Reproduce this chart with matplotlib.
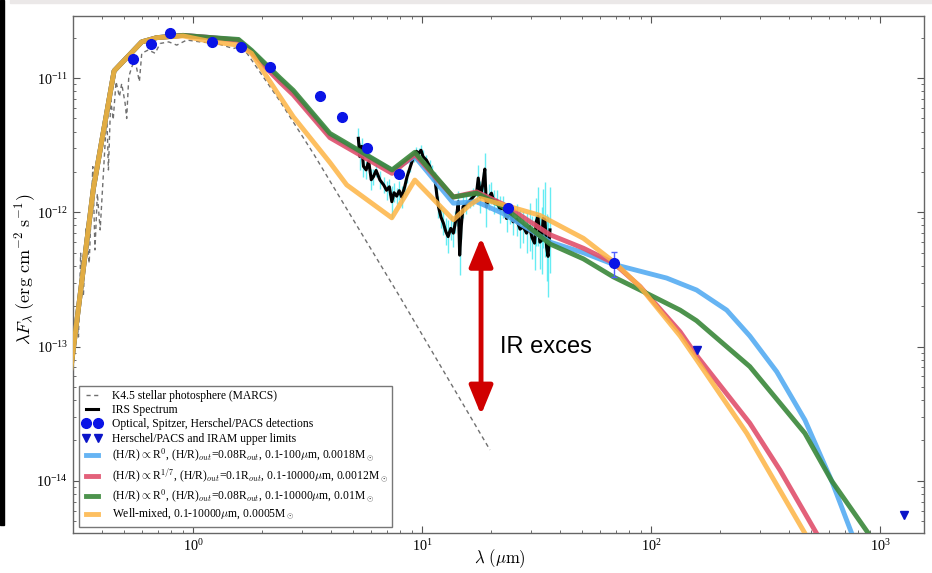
import numpy as np
import matplotlib
matplotlib.use('Agg')
import matplotlib.pyplot as plt
from matplotlib.patches import Rectangle
from matplotlib.ticker import NullFormatter

plt.rcParams['font.family'] = 'serif'
plt.rcParams['font.serif'] = ['Liberation Serif', 'DejaVu Serif']
plt.rcParams['mathtext.fontset'] = 'cm'

# stellar photosphere (MARCS)
wl_phot = [0.285, 0.300, 0.311, 0.316, 0.323, 0.332, 0.341, 0.352, 0.365, 0.373,
           0.382, 0.393, 0.406, 0.420, 0.427, 0.437, 0.448, 0.461, 0.477, 0.488,
           0.505, 0.513, 0.524, 0.540, 0.558, 0.583, 0.597, 0.638, 0.683, 0.718,
           0.783, 0.849, 0.939, 1.073, 1.27, 1.50, 1.60, 1.72, 1.93, 2.4,
           3.35, 5.01, 8.0, 19.8]
flux_phot = [5e-14, 9.4e-14, 1.58e-13, 1.18e-13, 4.96e-13, 2.36e-13, 7.8e-13, 4.17e-13, 2.19e-12, 5.25e-13,
             1.38e-12, 7.4e-13, 1.95e-12, 5.46e-12, 2.07e-12, 6.86e-12, 4.9e-12, 9.4e-12, 7.26e-12, 9.1e-12,
             6.5e-12, 5.0e-12, 1.02e-11, 1.21e-11, 1.36e-11, 9.4e-12, 1.53e-11, 1.62e-11, 1.53e-11, 1.81e-11,
             1.86e-11, 1.76e-11, 1.92e-11, 1.86e-11, 1.81e-11, 1.66e-11, 1.71e-11, 1.53e-11, 1.15e-11, 6.7e-12,
             2.75e-12, 8.8e-13, 2.35e-13, 1.7e-14]

# IRS spectrum + error (dex)
wl_irs = [5.27, 5.35, 5.45, 5.55, 5.7, 5.85, 6.0, 6.13, 6.3, 6.55,
          6.8, 7.0, 7.2, 7.38, 7.55, 7.75, 7.95, 8.15, 8.4, 8.6,
          8.9, 9.2, 9.45, 9.66, 9.9, 10.1, 10.45, 10.8, 11.1, 11.4,
          11.6, 11.8, 12.1, 12.4, 12.7, 13.0, 13.35, 13.7, 14.0, 14.2,
          14.4, 14.6, 14.85, 15.1, 15.6, 16.2, 16.7, 17.3, 17.6, 18.0,
          18.4, 18.8, 19.1, 19.6, 20.1, 20.6, 21.2, 21.9, 22.6, 23.4,
          24.2, 25.0, 25.9, 26.8, 27.7, 28.6, 29.5, 30.2, 31.0, 31.5,
          32.1, 32.7, 33.3, 33.8, 34.4, 35.0, 35.5, 36.2]
flux_irs = [3.56e-12, 2.6e-12, 3.1e-12, 2.2e-12, 2.07e-12, 2.4e-12, 1.75e-12, 1.84e-12, 2.05e-12, 1.74e-12,
            1.6e-12, 1.46e-12, 1.55e-12, 1.2e-12, 1.4e-12, 1.32e-12, 1.45e-12, 1.3e-12, 1.55e-12, 1.84e-12,
            2.2e-12, 2.6e-12, 2.85e-12, 2.75e-12, 2.9e-12, 2.6e-12, 2.45e-12, 2.2e-12, 1.95e-12, 1.74e-12,
            1.35e-12, 1.1e-12, 9.2e-13, 8.3e-13, 7.2e-13, 6.6e-13, 7.6e-13, 7.0e-13, 8.5e-13, 9.8e-13,
            1.2e-12, 4.8e-13, 8.0e-13, 1.1e-12, 1.15e-12, 1.23e-12, 1.3e-12, 1.39e-12, 1.8e-12, 1.3e-12,
            1.6e-12, 2.1e-12, 1.1e-12, 1.3e-12, 1.39e-12, 1.2e-12, 1.23e-12, 1.05e-12, 1.1e-12, 9.0e-13,
            9.8e-13, 8.5e-13, 8.8e-13, 7.5e-13, 7.8e-13, 7.0e-13, 7.8e-13, 6.5e-13, 5.9e-13, 8.5e-13,
            9.3e-13, 6.0e-13, 6.2e-13, 9.0e-13, 8.8e-13, 5.5e-13, 4.7e-13, 7.4e-13]
err_irs = [0.08, 0.10, 0.06, 0.08, 0.07, 0.06, 0.08, 0.06, 0.05, 0.07,
           0.06, 0.07, 0.06, 0.12, 0.07, 0.06, 0.07, 0.08, 0.06, 0.05,
           0.04, 0.04, 0.03, 0.04, 0.04, 0.05, 0.04, 0.05, 0.06, 0.06,
           0.07, 0.08, 0.08, 0.09, 0.10, 0.12, 0.09, 0.10, 0.08, 0.09,
           0.08, 0.15, 0.10, 0.08, 0.07, 0.06, 0.07, 0.08, 0.10, 0.12,
           0.10, 0.12, 0.15, 0.10, 0.08, 0.09, 0.08, 0.10, 0.08, 0.10,
           0.08, 0.10, 0.12, 0.14, 0.12, 0.15, 0.18, 0.16, 0.20, 0.18,
           0.22, 0.20, 0.25, 0.22, 0.28, 0.25, 0.30, 0.32]

# disk models
wl_blue = [0.29, 0.367, 0.452, 0.597, 0.694, 0.904, 1.21, 1.58, 1.80, 2.4,
           2.74, 3.96, 7.4, 9.3, 13.7, 17.3, 22.6, 36.3, 50.7, 68.6,
           117, 158, 214, 270, 354, 470, 615, 752, 850]
flux_blue = [6e-14, 1.5e-12, 1.13e-11, 1.86e-11, 2.0e-11, 2.08e-11, 2.0e-11, 1.92e-11, 1.58e-11, 9.7e-12,
             7.8e-12, 3.75e-12, 2.05e-12, 2.6e-12, 1.17e-12, 1.2e-12, 9.8e-13, 6.0e-13, 5.0e-13, 4.1e-13,
             3.24e-13, 2.64e-13, 1.87e-13, 1.2e-13, 6.5e-14, 2.84e-14, 1.0e-14, 4.07e-15, 1.8e-15]

wl_red = [0.29, 0.367, 0.452, 0.597, 0.694, 0.904, 1.21, 1.58, 1.80, 2.4,
          2.74, 3.96, 7.4, 9.3, 13.7, 17.3, 22.6, 36.3, 50.7, 68.6,
          89.6, 134, 158, 270, 366, 528, 650]
flux_red = [6e-14, 1.5e-12, 1.13e-11, 1.86e-11, 2.0e-11, 2.08e-11, 2.0e-11, 1.9e-11, 1.55e-11, 9.3e-12,
            7.5e-12, 3.6e-12, 1.95e-12, 2.7e-12, 1.3e-12, 1.42e-12, 1.15e-12, 6.8e-13, 5.4e-13, 4.2e-13,
            2.8e-13, 1.29e-13, 8.6e-14, 2.69e-14, 1.2e-14, 4.07e-15, 1.8e-15]

wl_green = [0.29, 0.367, 0.452, 0.597, 0.694, 0.904, 1.21, 1.58, 1.80, 2.4,
            2.74, 3.96, 7.4, 9.3, 13.7, 17.3, 22.6, 36.3, 50.7, 68.6,
            89.6, 134, 158, 270, 470, 615, 889, 1100]
flux_green = [6e-14, 1.5e-12, 1.13e-11, 1.86e-11, 2.0e-11, 2.08e-11, 2.0e-11, 1.94e-11, 1.61e-11, 1.0e-11,
              8.1e-12, 3.87e-12, 2.07e-12, 2.8e-12, 1.3e-12, 1.39e-12, 1.1e-12, 5.8e-13, 4.5e-13, 3.3e-13,
              2.64e-13, 1.87e-13, 1.56e-13, 7.1e-14, 2.26e-14, 1.0e-14, 4.07e-15, 1.8e-15]

wl_orange = [0.29, 0.367, 0.452, 0.597, 0.694, 0.904, 1.21, 1.58, 1.80, 2.32,
             2.74, 3.96, 4.69, 7.38, 9.3, 13.7, 16.2, 17.9, 22.6, 32.7,
             50.7, 68.6, 89.6, 134, 158, 262, 470, 560]
flux_orange = [6e-14, 1.5e-12, 1.13e-11, 1.86e-11, 2.0e-11, 2.06e-11, 1.86e-11, 1.76e-11, 1.53e-11, 7.9e-12,
               5.15e-12, 2.35e-12, 1.6e-12, 9.1e-13, 1.74e-12, 8.8e-13, 1.14e-12, 1.27e-12, 1.14e-12, 9.5e-13,
               6.4e-13, 4.29e-13, 2.79e-13, 1.2e-13, 8.0e-14, 2.26e-14, 4.07e-15, 1.8e-15]

# photometry
wl_det = [0.549, 0.656, 0.796, 1.21, 1.62, 2.17, 3.59, 4.46, 5.75, 7.9, 23.7, 68.9]
flux_det = [1.38e-11, 1.78e-11, 2.15e-11, 1.86e-11, 1.69e-11, 1.2e-11, 7.3e-12, 5.1e-12, 3.0e-12, 1.92e-12, 1.08e-12, 4.2e-13]
err_det = [0, 0, 0, 0, 0, 0, 0, 0, 0, 0, 0, 0.9e-13]

wl_ul = [158, 1273]
flux_ul = [9.4e-14, 5.6e-15]

labels = [
    'K4.5 stellar photosphere (MARCS)',
    'IRS Spectrum',
    'Optical, Spitzer, Herschel/PACS detections',
    'Herschel/PACS and IRAM upper limits',
    r'(H/R)$\propto$R$^0$, (H/R)$_{out}$=0.08R$_{out}$, 0.1-100$\mu$m, 0.0018M$_\odot$',
    r'(H/R)$\propto$R$^{1/7}$, (H/R)$_{out}$=0.1R$_{out}$, 0.1-10000$\mu$m, 0.0012M$_\odot$',
    r'(H/R)$\propto$R$^0$, (H/R)$_{out}$=0.08R$_{out}$, 0.1-10000$\mu$m, 0.01M$_\odot$',
    r'Well-mixed, 0.1-10000$\mu$m, 0.0005M$_\odot$',
]

fig = plt.figure(figsize=(9.32, 5.73), dpi=100)
ax = fig.add_axes([0.0783, 0.0698, 0.9131, 0.9023])

# screenshot edges
fig.patches.append(Rectangle((0, 48 / 573), 3.5 / 932, 1 - 48 / 573, transform=fig.transFigure,
                             color='black', zorder=0))
fig.patches.append(Rectangle((10 / 932, 1 - 2.5 / 573), 1, 2.5 / 573, transform=fig.transFigure,
                             color='#ebe8e8', zorder=0))

ax.plot(wl_phot, flux_phot, ls='--', color='#707070', lw=1.0, dashes=(3, 2.5), label=labels[0])

irs = np.array(flux_irs)
e = np.array(err_irs)
ax.errorbar(wl_irs, irs, yerr=[irs * (1 - 10 ** -e), irs * (10 ** e - 1)], fmt='none',
            ecolor='#40e8f0', elinewidth=1.0, alpha=0.8, zorder=2)
ax.plot(wl_irs, irs, color='black', lw=2.2, label=labels[1], zorder=3)

ax.plot(wl_blue, flux_blue, color='#55acf2', lw=3.5, alpha=0.9, label=labels[4], zorder=4)
ax.plot(wl_red, flux_red, color='#e0506c', lw=3.5, alpha=0.9, label=labels[5], zorder=4)
ax.plot(wl_green, flux_green, color='#3a873a', lw=3.5, alpha=0.9, label=labels[6], zorder=4)
ax.plot(wl_orange, flux_orange, color='#fdb444', lw=3.5, alpha=0.85, label=labels[7], zorder=4)

ax.errorbar(wl_det, flux_det, yerr=err_det, fmt='none', ecolor='#5060ff', elinewidth=1,
            capsize=2, zorder=5)
ax.plot(wl_det, flux_det, 'o', color='#0a14e6', markersize=7, mec='#0a14e6', label=labels[2], zorder=6)
ax.plot(wl_ul, flux_ul, 'v', color='#0a14c8', markersize=6, label=labels[3], zorder=6)

# IR excess arrow
ax.annotate('', xy=(18.1, 6.5e-13), xytext=(18.1, 3.1e-14),
            arrowprops=dict(arrowstyle='<|-|>,head_length=1.1,head_width=0.45',
                            color='#d00000', lw=3.5, mutation_scale=16,
                            shrinkA=0, shrinkB=0), zorder=7)
ax.text(21.8, 1.0e-13, 'IR exces', fontsize=17, family='Liberation Sans', va='center', ha='left')

ax.set_xscale('log')
ax.set_yscale('log')
ax.set_xlim(0.299, 1556)
ax.set_ylim(4.09e-15, 2.9e-11)
ax.xaxis.set_minor_formatter(NullFormatter())
ax.yaxis.set_minor_formatter(NullFormatter())

ax.set_xlabel(r'$\lambda\ (\mu\mathrm{m})$', fontsize=12)
ax.set_ylabel(r'$\lambda F_{\lambda}\ (\mathrm{erg\ cm^{-2}\ s^{-1}})$', fontsize=13)
ax.xaxis.set_label_coords(0.502, -0.027)
ax.yaxis.set_label_coords(-0.041, 0.51)

ax.tick_params(which='both', direction='in', top=True, right=True, colors='#555555',
               labelcolor='black', labelsize=10.2)
ax.tick_params(which='major', length=5)
ax.tick_params(which='minor', length=2.5)
for s in ax.spines.values():
    s.set_color('#666666')
    s.set_linewidth(1.0)

h, l = ax.get_legend_handles_labels()
order = [labels.index(x) for x in l]
pairs = sorted(zip(order, h, l))
leg = ax.legend([p[1] for p in pairs], [p[2] for p in pairs], loc='lower left',
                bbox_to_anchor=(0.004, 0.008), fontsize=8.4, numpoints=2, fancybox=False,
                framealpha=1, edgecolor='#777777', handlelength=1.6, labelspacing=0.2,
                borderpad=0.35, handletextpad=0.9, borderaxespad=0.2)
leg.get_frame().set_linewidth(1.0)

fig.savefig('out.png', dpi=100)
